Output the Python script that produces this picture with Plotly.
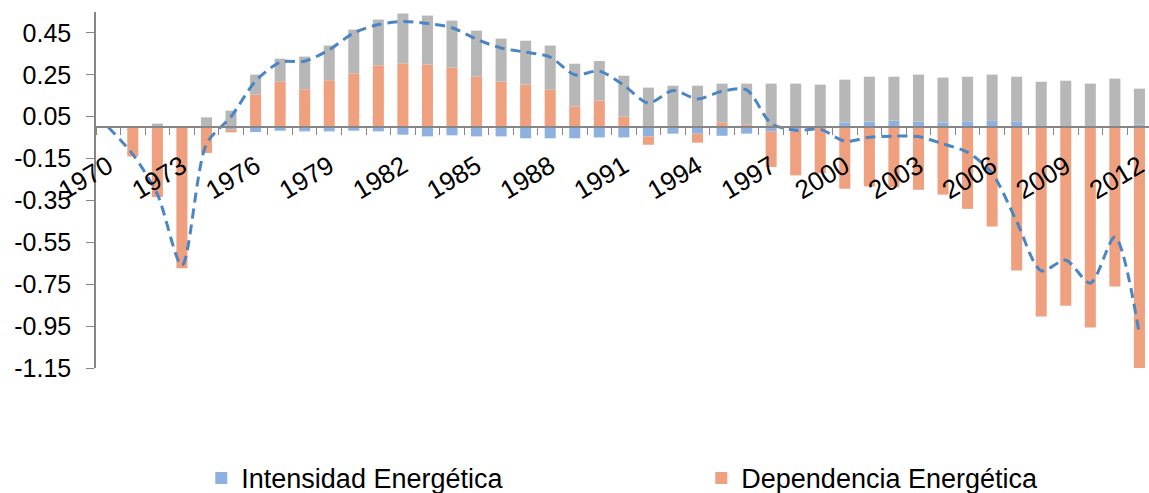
import plotly.graph_objects as go

years = list(range(1970, 2013))

intensidad = [0, 0, 0, 0, 0, -0.01, -0.023, -0.017, -0.02, -0.02,
              -0.017, -0.02, -0.036, -0.044, -0.039, -0.044, -0.044, -0.053, -0.053, -0.053,
              -0.049, -0.049, -0.044, -0.031, -0.031, -0.041, -0.031, -0.02, -0.01, 0,
              0.023, 0.027, 0.031, 0.027, 0.023, 0.028, 0.03, 0.028, 0.003, 0.003,
              0.003, 0.003, 0.012]

dependencia = [0, -0.14, -0.334, -0.674, -0.123, -0.015, 0.155, 0.219, 0.181, 0.224,
               0.257, 0.295, 0.305, 0.299, 0.284, 0.241, 0.217, 0.203, 0.179, 0.098,
               0.127, 0.05, -0.04, 0.005, -0.043, 0.021, 0.012, -0.17, -0.22, -0.22,
               -0.294, -0.283, -0.287, -0.299, -0.322, -0.39, -0.474, -0.684, -0.904, -0.853,
               -0.957, -0.761, -1.158]

otros = [0, 0, 0.017, 0, 0.047, 0.079, 0.096, 0.108, 0.156, 0.166,
         0.209, 0.219, 0.238, 0.234, 0.225, 0.22, 0.206, 0.21, 0.211, 0.205,
         0.189, 0.196, 0.189, 0.193, 0.198, 0.187, 0.196, 0.208, 0.208, 0.203,
         0.204, 0.214, 0.21, 0.224, 0.214, 0.213, 0.221, 0.213, 0.214, 0.219,
         0.205, 0.229, 0.172]

total = [0, -0.13, -0.32, -0.66, -0.08, 0.05, 0.22, 0.31, 0.315, 0.37,
         0.45, 0.49, 0.505, 0.495, 0.475, 0.42, 0.378, 0.358, 0.335, 0.25,
         0.268, 0.2, 0.115, 0.175, 0.135, 0.172, 0.178, 0.018, -0.015, -0.01,
         -0.067, -0.048, -0.043, -0.045, -0.08, -0.12, -0.22, -0.45, -0.686, -0.635,
         -0.745, -0.525, -0.99]

x_tick_years = [1970, 1973, 1976, 1979, 1982, 1985, 1988, 1991, 1994, 1997,
                2000, 2003, 2006, 2009, 2012]
y_ticks = [0.45, 0.25, 0.05, -0.15, -0.35, -0.55, -0.75, -0.95, -1.15]
y_range = [-1.15, 0.55]
x_range = [1969.5, 2012.39]

AXIS_GRAY = "#868686"
BAR_W = 0.45

fig = go.Figure()
fig.add_bar(x=years, y=intensidad, name="Intensidad Energética",
            marker=dict(color="#8EB1E0", line=dict(width=0)), width=BAR_W)
fig.add_bar(x=years, y=dependencia, name="Dependencia Energética",
            marker=dict(color="#EFA07E", line=dict(width=0)), width=BAR_W)
fig.add_bar(x=years, y=otros, name="Otros", showlegend=False,
            marker=dict(color="#B7B7B7", line=dict(width=0)), width=BAR_W)
fig.add_scatter(x=years, y=total, mode="lines", name="Total", showlegend=False,
                line=dict(color="#4A86C4", width=3, dash="10px,6px",
                          shape="spline", smoothing=0.8))

zero_pos = (0 - y_range[0]) / (y_range[1] - y_range[0])

fig.update_layout(
    barmode="relative",
    width=1149, height=493,
    margin=dict(l=96, r=0, t=12, b=125, autoexpand=False),
    plot_bgcolor="white", paper_bgcolor="white",
    font=dict(family="Liberation Sans, Arial, sans-serif", size=24, color="black"),
    legend=dict(orientation="h", x=0.1, xanchor="left", y=-0.31, yanchor="middle",
                entrywidth=455, font=dict(size=27), traceorder="normal"),
    xaxis=dict(
        range=x_range, automargin=False,
        anchor="free", position=zero_pos,
        showline=True, linecolor=AXIS_GRAY, linewidth=1.5,
        tickmode="array", tickvals=x_tick_years,
        ticktext=[str(y) for y in x_tick_years],
        tickangle=-31, ticks="outside", ticklen=13,
        tickcolor="rgba(0,0,0,0)",
        ticklabeloverflow="allow",
        minor=dict(tickmode="linear", tick0=years[0] - 0.5, dtick=1,
                   ticks="outside", ticklen=7, tickcolor=AXIS_GRAY, showgrid=False),
        showgrid=False, zeroline=False,
        tickfont=dict(size=26),
    ),
    yaxis=dict(
        range=y_range, automargin=False,
        tickmode="array", tickvals=y_ticks,
        ticktext=[f"{v:.2f}" for v in y_ticks],
        ticks="outside", ticklen=8, tickcolor=AXIS_GRAY,
        showline=True, linecolor=AXIS_GRAY, linewidth=1.5,
        showgrid=False, zeroline=False,
        ticklabelstandoff=10,
        tickfont=dict(size=25),
    ),
)

fig.write_html("out.html", config={"displayModeBar": False},
               post_script="document.body.style.margin='0';document.body.style.padding='0';")
